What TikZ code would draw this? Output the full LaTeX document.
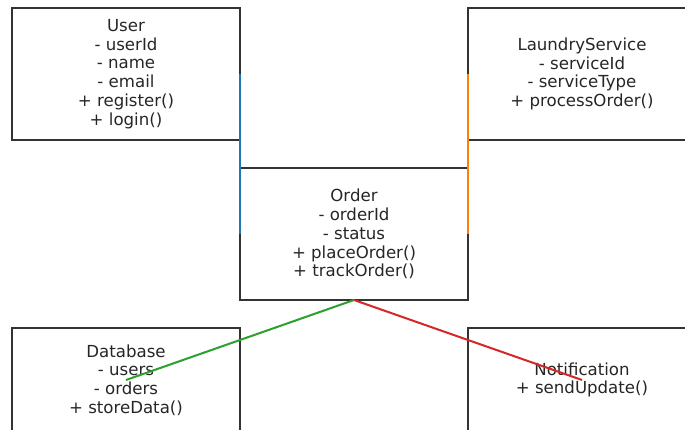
\documentclass[tikz,border=0pt]{standalone}
\usepackage{fontspec}
\setmainfont{DejaVu Sans}
\definecolor{tabblue}{HTML}{1F77B4}
\definecolor{taborange}{HTML}{FF7F0E}
\definecolor{tabgreen}{HTML}{2CA02C}
\definecolor{tabred}{HTML}{D62728}
\tikzset{
  classbox/.style={draw=black!80, line width=1.5pt, fill=white,
    minimum width=228pt, minimum height=132pt, inner sep=2pt, outer sep=0pt,
    align=center, text=black!85,
    font=\fontsize{16.6pt}{18.8pt}\selectfont},
  lowbox/.style={classbox, minimum height=104pt},
  link/.style={line width=2pt}
}
\begin{document}
\begin{tikzpicture}[x=1pt, y=-1pt]
  \useasboundingbox (0,0) rectangle (685,430);
  \clip (0,0) rectangle (685,430);
  \fill[white] (0,0) rectangle (685,430);

  % classes
  \node[classbox] (user) at (126,74)
    {User\\- userId\\- name\\- email\\+ register()\\+ login()};
  \node[classbox] (laundry) at (582,74)
    {LaundryService\\- serviceId\\- serviceType\\+ processOrder()};
  \node[classbox] (order) at (354,234)
    {Order\\- orderId\\- status\\+ placeOrder()\\+ trackOrder()};
  \node[lowbox] (database) at (126,380)
    {Database\\- users\\- orders\\+ storeData()};
  \node[lowbox] (notification) at (582,380)
    {Notification\\+ sendUpdate()};

  % associations
  \draw[link, tabblue] (user.east) -- (order.west);
  \draw[link, taborange] (laundry.west) -- (order.east);
  \draw[link, tabgreen] (order.south) -- (database.center);
  \draw[link, tabred] (order.south) -- (notification.center);
\end{tikzpicture}
\end{document}
